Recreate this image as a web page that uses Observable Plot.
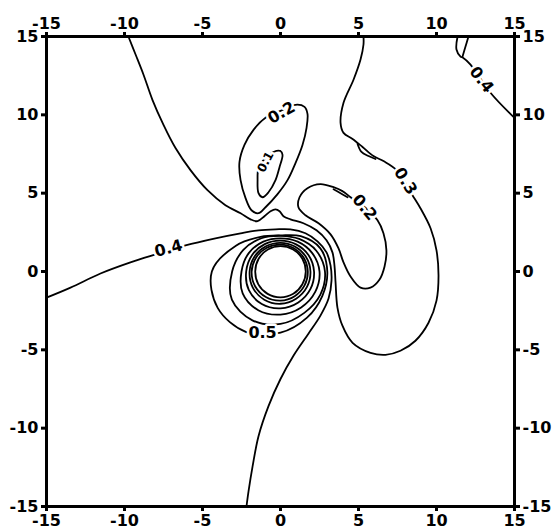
<!DOCTYPE html>
<html>
<head>
<meta charset="utf-8">
<script src="https://cdn.jsdelivr.net/npm/d3@7"></script>
<script src="https://cdn.jsdelivr.net/npm/@observablehq/plot@0.6"></script>
<style>
  html, body { margin: 0; padding: 0; background: #fff; }
</style>
</head>
<body>
<div id="chart"></div>
<script>
// Axis ticks (same on all four sides)
const axisTicks = [-15, -10, -5, 0, 5, 10, 15];
const axisTickLabels = ["-15", "-10", "-5", "0", "5", "10", "15"];

// Open contour lines, [x, y] in plot units
const level04West = [[-15,-1.67],[-13.46,-1.03],[-11.54,-0.13],[-9.62,0.58],[-8.01,1.09],[-6.09,1.67],[-4.17,2.12],[-2.56,2.44],[-1.41,2.63],[-0.32,2.69],[0.64,2.69],[1.6,2.44],[2.37,1.92],[2.95,1.22],[3.21,0.38],[3.27,-0.58],[3.08,-1.73],[2.56,-2.82],[1.79,-3.97],[0.83,-5.38],[0,-6.86],[-0.77,-8.59],[-1.41,-10.51],[-1.79,-12.44],[-2.05,-14.04],[-2.18,-15]];
const level03 = [[-9.75,15],[-9.29,13.85],[-8.78,12.56],[-8.21,10.96],[-7.5,9.36],[-6.73,7.88],[-5.77,6.47],[-4.68,5.19],[-3.53,4.23],[-2.56,3.72],[-1.92,3.33],[-1.47,3.21],[-1.03,3.53],[-0.64,3.85],[-0.32,3.97],[-0.06,3.85],[0.19,3.53],[0.64,3.33],[1.47,3.08],[2.31,2.63],[2.95,1.99],[3.33,1.22],[3.46,0.38],[3.53,-0.71],[3.65,-2.3],[3.97,-3.46],[4.62,-4.55],[5.77,-5.19],[6.73,-5.32],[7.69,-5.06],[8.65,-4.42],[9.49,-3.27],[10.0,-1.86],[10.13,-0.26],[10.0,1.35],[9.62,2.76],[8.97,4.04],[8.46,4.87],[7.44,6.47],[6.6,7.05],[5.96,7.37],[5.26,7.95],[4.62,8.46],[4.04,8.85],[3.85,9.49],[4.04,10.77],[4.68,12.24],[5.13,13.53],[5.32,14.49],[5.32,15]];
const level03Lens = [[4.94,8.14],[5.19,7.63],[5.64,7.37],[6.09,7.18]];
const level02Lens = [[3.4,5.25],[3.85,5.0],[4.3,4.74]];
const level04CornerA = [[11.35,15],[11.28,14.17],[11.54,13.72],[11.7,13.65],[12.18,13.21],[13.46,11.41],[15,9.8]];
const level04CornerB = [[12.05,15],[11.86,14.36],[11.67,13.72]];

// Closed contour loops
const level02East = [[4.49,4.74],[3.97,5.13],[3.4,5.38],[2.56,5.58],[1.73,5.32],[1.22,4.74],[1.15,4.1],[1.6,3.59],[2.44,3.08],[3.21,2.37],[3.72,1.47],[4.04,0.58],[4.49,-0.32],[5.13,-1.03],[5.77,-1.03],[6.35,-0.51],[6.67,0.32],[6.79,1.35],[6.6,2.44],[6.22,3.27],[5.4,4.1]];
const level02North = [[0.96,10.64],[1.54,10.51],[1.73,10.06],[1.67,9.17],[1.41,8.08],[0.96,6.92],[0.45,5.83],[-0.19,4.94],[-0.96,4.1],[-1.41,3.72],[-1.86,3.91],[-2.24,4.68],[-2.56,5.83],[-2.63,6.99],[-2.31,8.08],[-1.73,9.04],[-0.96,9.81],[0.0,10.25]];
const level01 = [[-0.45,7.63],[0,7.69],[0.13,7.44],[-0.06,6.67],[-0.32,5.83],[-0.77,5.06],[-1.15,4.74],[-1.41,5.0],[-1.47,5.83],[-1.41,6.6],[-1.0,7.2]];

// Rings round the cylinder: radius at each angle (degrees, counter-clockwise from +x)
const ringAngles = [0, 30, 60, 90, 120, 150, 180, 210, 240, 270, 300, 330];
const ring1 = [1.62,1.62,1.62,1.62,1.62,1.62,1.62,1.64,1.65,1.65,1.64,1.62];
const ring2 = [1.75,1.73,1.72,1.72,1.75,1.8,1.85,1.88,1.88,1.86,1.82,1.78];
const ring3 = [1.92,1.88,1.84,1.83,1.86,1.92,1.98,2.05,2.08,2.06,2.0,1.96];
const ring4 = [2.15,2.08,2.0,1.97,2.02,2.1,2.2,2.35,2.4,2.35,2.28,2.22];
const ring5 = [2.5,2.35,2.2,2.12,2.2,2.35,2.5,2.8,2.85,2.75,2.65,2.58];
const ring6 = [2.85,2.65,2.4,2.28,2.45,2.75,3.1,3.6,3.6,3.35,3.05,2.95];
const ring05 = [3.0,2.95,2.6,2.3,2.55,3.3,4.4,4.65,4.45,3.9,3.4,3.1];

// Contour labels
const labelText = ["0.1", "0.2", "0.2", "0.3", "0.4", "0.4", "0.5"];
const labelX = [-0.96, 0.06, 5.38, 8.01, 12.88, -7.18, -1.15];
const labelY = [6.99, 10.13, 4.10, 5.77, 12.24, 1.47, -3.91];
const labelAngle = [-62, -30, 50, 58, 52, -15, 0];
const labelSize = [12, 16, 16, 16, 16, 16, 16];

const toRows = (lines) => lines.flatMap((pts, id) => pts.map(([x, y]) => ({id, x, y})));
const openRows = toRows([level04West, level03, level03Lens, level02Lens, level04CornerA, level04CornerB]);
const loopRows = toRows([level02East, level02North, level01]);
const ringRows = [ring1, ring2, ring3, ring4, ring5, ring6, ring05].flatMap((radii, id) =>
  radii.map((r, j) => ({
    id,
    x: r * Math.cos(ringAngles[j] * Math.PI / 180),
    y: r * Math.sin(ringAngles[j] * Math.PI / 180)
  })));
const labels = labelText.map((text, i) => ({
  text, x: labelX[i], y: labelY[i], angle: labelAngle[i], size: labelSize[i]
}));

const tickFormat = (d) => axisTickLabels[axisTicks.indexOf(d)];
const axisStyle = {ticks: axisTicks, tickFormat, tickSize: 5, tickPadding: 3,
  strokeWidth: 3, fontSize: 16, fontWeight: "bold", label: null};

const chart = Plot.plot({
  width: 554,
  height: 529,
  marginLeft: 46,
  marginRight: 40,
  marginTop: 36,
  marginBottom: 23,
  style: {fontFamily: "DejaVu Sans", fontWeight: "bold", fontSize: "16px", background: "#fff", color: "#000"},
  x: {domain: [-15, 15]},
  y: {domain: [-15, 15]},
  marks: [
    Plot.line(openRows, {x: "x", y: "y", z: "id", curve: "catmull-rom", stroke: "#000", strokeWidth: 1.8}),
    Plot.line(loopRows, {x: "x", y: "y", z: "id", curve: "catmull-rom-closed", stroke: "#000", strokeWidth: 1.8}),
    Plot.line(ringRows, {x: "x", y: "y", z: "id", curve: "catmull-rom-closed", stroke: "#000", strokeWidth: 1.8}),
    Plot.text(labels, {x: "x", y: "y", text: "text", rotate: "angle", fontSize: "size",
      fontWeight: "bold", fill: "#000", stroke: "#fff", strokeWidth: 5}),
    Plot.frame({stroke: "#000", strokeWidth: 3}),
    Plot.axisX({...axisStyle, anchor: "bottom"}),
    Plot.axisX({...axisStyle, anchor: "top"}),
    Plot.axisY({...axisStyle, anchor: "left"}),
    Plot.axisY({...axisStyle, anchor: "right"})
  ]
});
document.getElementById("chart").appendChild(chart);
</script>
</body>
</html>
